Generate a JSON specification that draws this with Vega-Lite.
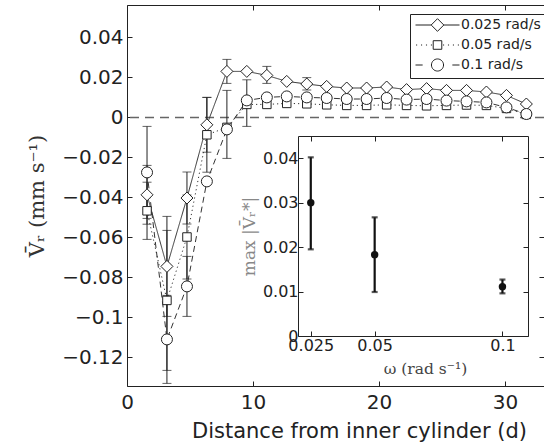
{
  "$schema": "https://vega.github.io/schema/vega-lite/v6.json",
  "width": 417,
  "height": 381,
  "autosize": {"type": "none"},
  "padding": {"left": 127, "top": 5, "right": 0, "bottom": 62},
  "background": "white",
  "config": {
    "view": {"stroke": null},
    "axis": {"grid": false, "labelFont": "DejaVu Sans", "labelFontSize": 20, "labelColor": "#222", "domainColor": "#222", "tickColor": "#222", "domainWidth": 1, "tickWidth": 1, "tickSize": -5, "titleFontWeight": "normal", "titleColor": "#222", "labelFlush": false}
  },
  "datasets": {
    "profiles": [
      {"d": 1.59, "series": "0.025 rad/s", "v": -0.0387, "lo": -0.0534, "hi": -0.024},
      {"d": 1.59, "series": "0.05 rad/s", "v": -0.0467, "lo": -0.061, "hi": -0.0324},
      {"d": 1.59, "series": "0.1 rad/s", "v": -0.0275, "lo": -0.0505, "hi": -0.0045},
      {"d": 3.17, "series": "0.025 rad/s", "v": -0.0745, "lo": -0.0995, "hi": -0.0495},
      {"d": 3.17, "series": "0.05 rad/s", "v": -0.0915, "lo": -0.1265, "hi": -0.0565},
      {"d": 3.17, "series": "0.1 rad/s", "v": -0.111, "lo": -0.133, "hi": -0.089},
      {"d": 4.76, "series": "0.025 rad/s", "v": -0.0403, "lo": -0.0533, "hi": -0.0273},
      {"d": 4.76, "series": "0.05 rad/s", "v": -0.0598, "lo": -0.0808, "hi": -0.0388},
      {"d": 4.76, "series": "0.1 rad/s", "v": -0.0845, "lo": -0.0995, "hi": -0.0695},
      {"d": 6.34, "series": "0.025 rad/s", "v": -0.0037, "lo": -0.0174, "hi": 0.01},
      {"d": 6.34, "series": "0.05 rad/s", "v": -0.0087, "lo": -0.0274, "hi": 0.01},
      {"d": 6.34, "series": "0.1 rad/s", "v": -0.032},
      {"d": 7.93, "series": "0.025 rad/s", "v": 0.023, "lo": 0.017, "hi": 0.029},
      {"d": 7.93, "series": "0.05 rad/s", "v": -0.005},
      {"d": 7.93, "series": "0.1 rad/s", "v": -0.006, "lo": -0.0205, "hi": 0.0135},
      {"d": 9.51, "series": "0.025 rad/s", "v": 0.023},
      {"d": 9.51, "series": "0.05 rad/s", "v": 0.0065},
      {"d": 9.51, "series": "0.1 rad/s", "v": 0.0085, "lo": -0.0045, "hi": 0.0188},
      {"d": 11.10, "series": "0.025 rad/s", "v": 0.021, "lo": 0.017, "hi": 0.0255},
      {"d": 11.10, "series": "0.05 rad/s", "v": 0.0065},
      {"d": 11.10, "series": "0.1 rad/s", "v": 0.010},
      {"d": 12.68, "series": "0.025 rad/s", "v": 0.018},
      {"d": 12.68, "series": "0.05 rad/s", "v": 0.007},
      {"d": 12.68, "series": "0.1 rad/s", "v": 0.0105},
      {"d": 14.27, "series": "0.025 rad/s", "v": 0.0167, "lo": 0.0137, "hi": 0.0199},
      {"d": 14.27, "series": "0.05 rad/s", "v": 0.0068},
      {"d": 14.27, "series": "0.1 rad/s", "v": 0.010},
      {"d": 15.85, "series": "0.025 rad/s", "v": 0.0155},
      {"d": 15.85, "series": "0.05 rad/s", "v": 0.0063},
      {"d": 15.85, "series": "0.1 rad/s", "v": 0.0097},
      {"d": 17.44, "series": "0.025 rad/s", "v": 0.0147},
      {"d": 17.44, "series": "0.05 rad/s", "v": 0.006},
      {"d": 17.44, "series": "0.1 rad/s", "v": 0.0092},
      {"d": 19.02, "series": "0.025 rad/s", "v": 0.0147},
      {"d": 19.02, "series": "0.05 rad/s", "v": 0.006},
      {"d": 19.02, "series": "0.1 rad/s", "v": 0.0092},
      {"d": 20.61, "series": "0.025 rad/s", "v": 0.0152},
      {"d": 20.61, "series": "0.05 rad/s", "v": 0.0063},
      {"d": 20.61, "series": "0.1 rad/s", "v": 0.0097},
      {"d": 22.19, "series": "0.025 rad/s", "v": 0.0139},
      {"d": 22.19, "series": "0.05 rad/s", "v": 0.006},
      {"d": 22.19, "series": "0.1 rad/s", "v": 0.0089},
      {"d": 23.78, "series": "0.025 rad/s", "v": 0.0144},
      {"d": 23.78, "series": "0.05 rad/s", "v": 0.0058},
      {"d": 23.78, "series": "0.1 rad/s", "v": 0.0092},
      {"d": 25.36, "series": "0.025 rad/s", "v": 0.0135},
      {"d": 25.36, "series": "0.05 rad/s", "v": 0.006},
      {"d": 25.36, "series": "0.1 rad/s", "v": 0.0084},
      {"d": 26.95, "series": "0.025 rad/s", "v": 0.0135},
      {"d": 26.95, "series": "0.05 rad/s", "v": 0.0062},
      {"d": 26.95, "series": "0.1 rad/s", "v": 0.008},
      {"d": 28.53, "series": "0.025 rad/s", "v": 0.0127},
      {"d": 28.53, "series": "0.05 rad/s", "v": 0.006},
      {"d": 28.53, "series": "0.1 rad/s", "v": 0.0075},
      {"d": 30.12, "series": "0.025 rad/s", "v": 0.011},
      {"d": 30.12, "series": "0.05 rad/s", "v": 0.0045},
      {"d": 30.12, "series": "0.1 rad/s", "v": 0.005},
      {"d": 31.70, "series": "0.025 rad/s", "v": 0.0067},
      {"d": 31.70, "series": "0.05 rad/s", "v": 0.0015},
      {"d": 31.70, "series": "0.1 rad/s", "v": 0.0017}
    ],
    "maxima": [
      {"w": 0.025, "v": 0.030, "lo": 0.0195, "hi": 0.0402},
      {"w": 0.05, "v": 0.0183, "lo": 0.0099, "hi": 0.0267},
      {"w": 0.1, "v": 0.0111, "lo": 0.0096, "hi": 0.0127}
    ],
    "zero": [{"y0": 0}]
  },
  "resolve": {"scale": {"x": "independent", "y": "independent"}},
  "layer": [
    {
      "resolve": {"scale": {"shape": "independent"}},
      "layer": [
        {
          "data": {"name": "zero"},
          "mark": {"type": "rule", "color": "#666", "strokeDash": [9, 6], "strokeWidth": 1.5},
          "encoding": {
            "y": {"field": "y0", "type": "quantitative", "title": "V̄ᵣ (mm s⁻¹)", "scale": {"domain": [-0.1343, 0.0562], "nice": false, "zero": false}}
          }
        },
        {
          "data": {"name": "profiles"},
          "transform": [{"filter": "isValid(datum.lo)"}],
          "mark": {"type": "errorbar", "color": "#222", "thickness": 1, "ticks": {"size": 9}},
          "encoding": {
            "x": {"field": "d", "type": "quantitative", "title": "Distance from inner cylinder (d)", "scale": {"domain": [0, 33.1], "nice": false, "zero": false}},
            "y": {"field": "lo", "type": "quantitative", "title": "V̄ᵣ (mm s⁻¹)", "scale": {"domain": [-0.1343, 0.0562], "nice": false, "zero": false}},
            "y2": {"field": "hi"}
          }
        },
        {
          "data": {"name": "profiles"},
          "mark": {"type": "line", "color": "#333", "strokeWidth": 1},
          "encoding": {
            "x": {"field": "d", "type": "quantitative", "scale": {"domain": [0, 33.1], "nice": false, "zero": false},
              "axis": {"values": [0, 10, 20, 30], "format": "d", "title": "Distance from inner cylinder (d)", "titleFont": "DejaVu Sans", "titleFontSize": 21, "labelPadding": 11, "titlePadding": 8, "titleX": 232}},
            "y": {"field": "v", "type": "quantitative", "scale": {"domain": [-0.1343, 0.0562], "nice": false, "zero": false},
              "axis": {"values": [-0.12, -0.1, -0.08, -0.06, -0.04, -0.02, 0, 0.02, 0.04], "format": ".2~f", "title": "V̄ᵣ (mm s⁻¹)", "titleFont": "DejaVu Serif", "titleFontSize": 21, "titleColor": "#333", "labelPadding": 9, "titlePadding": 14}},
            "strokeDash": {"field": "series", "type": "nominal", "scale": {"domain": ["0.025 rad/s", "0.05 rad/s", "0.1 rad/s"], "range": [[1, 0], [1.2, 3], [6, 4]]}, "legend": null}
          }
        },
        {
          "data": {"name": "profiles"},
          "mark": {"type": "point", "filled": false, "fill": "white", "stroke": "#222", "strokeWidth": 1, "opacity": 1},
          "encoding": {
            "x": {"field": "d", "type": "quantitative", "title": "Distance from inner cylinder (d)"},
            "y": {"field": "v", "type": "quantitative", "title": "V̄ᵣ (mm s⁻¹)"},
            "shape": {"field": "series", "type": "nominal", "scale": {"domain": ["0.025 rad/s", "0.05 rad/s", "0.1 rad/s"], "range": ["diamond", "square", "circle"]}, "legend": null},
            "size": {"field": "series", "type": "nominal", "scale": {"type": "ordinal", "domain": ["0.025 rad/s", "0.05 rad/s", "0.1 rad/s"], "range": [144, 72, 121]}, "legend": null}
          }
        },
        {
          "data": {"name": "profiles"},
          "mark": {"type": "point", "opacity": 0, "size": 121, "filled": false, "fill": "white", "stroke": "#222"},
          "encoding": {
            "x": {"field": "d", "type": "quantitative", "title": "Distance from inner cylinder (d)"},
            "y": {"field": "v", "type": "quantitative", "title": "V̄ᵣ (mm s⁻¹)"},
            "shape": {"field": "series", "type": "nominal",
              "scale": {"domain": ["0.025 rad/s", "0.05 rad/s", "0.1 rad/s"],
                "range": [
                  "M-1,0H1.85M4.15,0H7M3,-1.15L4.15,0L3,1.15L1.85,0Z",
                  "M-0.9,0H-0.7M0,0H0.2M0.9,0H1.1M1.8,0H2M4,0H4.2M4.9,0H5.1M5.8,0H6M6.7,0H6.9M2.22,-0.78H3.78V0.78H2.22Z",
                  "M-1,0H0.3M5.7,0H7M4.1,0A1.1,1.1,0,1,1,1.9,0A1.1,1.1,0,1,1,4.1,0Z"
                ]},
              "legend": {"title": null, "orient": "none", "legendX": 283, "legendY": 9, "padding": 4, "strokeColor": "#222", "fillColor": "white", "labelFont": "DejaVu Sans", "labelFontSize": 14, "labelColor": "#222", "labelOffset": 33, "labelLimit": 200, "symbolSize": 121, "symbolStrokeWidth": 1, "rowPadding": 4,
                "encode": {"symbols": {"update": {"opacity": {"value": 1}, "fill": {"value": "white"}, "stroke": {"value": "#222"}, "strokeWidth": {"value": 1}}}}}
            }
          }
        }
      ]
    },
    {
      "data": {"name": "profiles"},
      "mark": {"type": "point", "opacity": 0},
      "encoding": {
        "x": {"field": "d", "type": "quantitative", "scale": {"domain": [0, 33.1], "nice": false, "zero": false},
          "axis": {"orient": "top", "values": [0, 10, 20, 30], "labels": false, "title": null}},
        "y": {"field": "v", "type": "quantitative", "scale": {"domain": [-0.1343, 0.0562], "nice": false, "zero": false},
          "axis": {"orient": "right", "values": [-0.12, -0.1, -0.08, -0.06, -0.04, -0.02, 0, 0.02, 0.04], "labels": false, "title": null, "domain": false}}
      }
    },
    {
      "data": {"name": "maxima"},
      "layer": [
        {
          "mark": {"type": "errorbar", "color": "#111", "thickness": 2.2, "ticks": {"size": 6}},
          "encoding": {
            "x": {"field": "w", "type": "quantitative", "scale": {"domain": [0.02, 0.11], "range": [171, 401], "nice": false, "zero": false},
              "axis": {"orient": "bottom", "offset": -50, "values": [0.025, 0.05, 0.1], "format": ".3~f", "labelFontSize": 16, "labelPadding": 6, "title": "ω (rad s⁻¹)", "titleFont": "DejaVu Serif", "titleFontSize": 15.5, "titleColor": "#444", "titlePadding": 8, "titleX": 298}},
            "y": {"field": "lo", "type": "quantitative", "title": "max |V̄ᵣ*|", "scale": {"domain": [0, 0.045], "range": [331, 131], "nice": false, "zero": false},
              "axis": {"orient": "left", "offset": -171, "values": [0, 0.01, 0.02, 0.03, 0.04], "format": ".2~f", "labelFontSize": 16, "labelPadding": 5, "title": "max |V̄ᵣ*|", "titleFont": "DejaVu Serif", "titleFontSize": 17, "titleColor": "#888", "titlePadding": 4}},
            "y2": {"field": "hi"}
          }
        },
        {
          "mark": {"type": "circle", "size": 55, "color": "#111", "opacity": 1},
          "encoding": {
            "x": {"field": "w", "type": "quantitative", "title": "ω (rad s⁻¹)"},
            "y": {"field": "v", "type": "quantitative", "title": "max |V̄ᵣ*|"}
          }
        }
      ]
    },
    {
      "data": {"name": "maxima"},
      "mark": {"type": "point", "opacity": 0},
      "encoding": {
        "x": {"field": "w", "type": "quantitative", "scale": {"domain": [0.02, 0.11], "range": [171, 401], "nice": false, "zero": false},
          "axis": {"orient": "top", "offset": -131, "values": [0.025, 0.05, 0.1], "labels": false, "title": null}},
        "y": {"field": "v", "type": "quantitative", "scale": {"domain": [0, 0.045], "range": [331, 131], "nice": false, "zero": false},
          "axis": {"orient": "right", "offset": -16, "values": [0, 0.01, 0.02, 0.03, 0.04], "labels": false, "title": null}}
      }
    }
  ]
}
